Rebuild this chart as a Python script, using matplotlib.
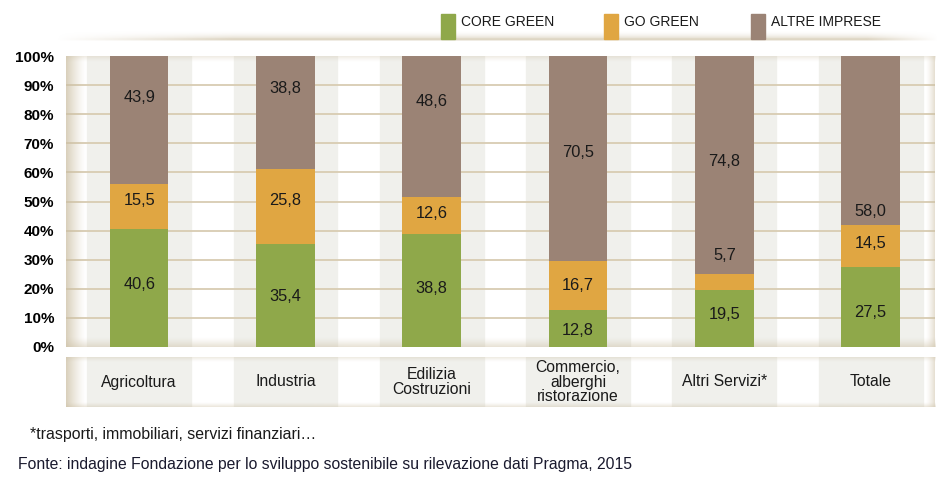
import numpy as np
import matplotlib.pyplot as plt
from matplotlib.patches import Rectangle

categorie = ['Agricoltura', 'Industria', 'Edilizia\nCostruzioni',
             'Commercio,\nalberghi\nristorazione', 'Altri Servizi*', 'Totale']
core_green = [40.6, 35.4, 38.8, 12.8, 19.5, 27.5]
go_green = [15.5, 25.8, 12.6, 16.7, 5.7, 14.5]
altre_imprese = [43.9, 38.8, 48.6, 70.5, 74.8, 58.0]
serie = ['CORE GREEN', 'GO GREEN', 'ALTRE IMPRESE']
yticks = np.arange(0, 101, 10)

# posizioni delle etichette come nel grafico originale (in %)
pos_core = [21.6, 17.2, 20.0, 5.8, 11.0, 12.0]
pos_go = [50.2, 50.2, 46.0, 21.3, 31.3, 35.4]
pos_altre = [85.6, 89.0, 84.5, 66.7, 63.6, 46.7]

c_core = '#8fa84a'
c_go = '#e0a642'
c_altre = '#9b8375'
c_band = '#f0f0ec'
c_grid = '#d8ccb2'
tan = np.array([0.80, 0.75, 0.64])

plt.rcParams['font.family'] = ['Liberation Sans', 'DejaVu Sans']

W, H = 940, 496
fig = plt.figure(figsize=(W / 100, H / 100), dpi=100)


def box(x0, y0, x1, y1):
    return [x0 / W, 1 - y1 / H, (x1 - x0) / W, (y1 - y0) / H]


def shade(ax, extent, direction, alpha=0.8):
    # gradient from tan to transparent
    n = 64
    g = np.linspace(alpha, 0, n) ** 1.3
    img = np.zeros((1, n, 4)) if direction in ('left', 'right') else np.zeros((n, 1, 4))
    img[..., :3] = tan
    if direction == 'left':
        img[0, :, 3] = g
    elif direction == 'right':
        img[0, :, 3] = g[::-1]
    elif direction == 'top':
        img[:, 0, 3] = g
    else:
        img[:, 0, 3] = g[::-1]
    ax.imshow(img, extent=extent, aspect='auto', origin='upper', zorder=1.5,
              interpolation='bilinear')


x = np.arange(len(categorie))
xl = (-0.5, 5.44)

# grafico principale
ax = fig.add_axes(box(66, 56, 935, 347))
ax.set_xlim(*xl)
ax.set_ylim(0, 100)
for xi in x:
    ax.axvspan(xi - 0.355, xi + 0.355, color=c_band, zorder=0)
for yv in yticks[1:-1]:
    ax.axhline(yv, color=c_grid, lw=1.3, zorder=1)
shade(ax, (xl[0], xl[0] + 0.13, 0, 100), 'left', 0.8)
shade(ax, (xl[1] - 0.06, xl[1], 0, 100), 'right', 0.6)
shade(ax, (xl[0], xl[1], 0, 3.2), 'bottom', 0.55)
shade(ax, (xl[0], xl[1], 98, 100), 'top', 0.4)
ax.set_xlim(*xl)
ax.set_ylim(0, 100)

bw = 0.4
base2 = np.array(core_green)
base3 = base2 + np.array(go_green)
ax.bar(x, core_green, bw, color=c_core, zorder=2)
ax.bar(x, go_green, bw, bottom=base2, color=c_go, zorder=2)
ax.bar(x, altre_imprese, bw, bottom=base3, color=c_altre, zorder=2)
for vals, pos in ((core_green, pos_core), (go_green, pos_go), (altre_imprese, pos_altre)):
    for xi, v, p in zip(x, vals, pos):
        ax.text(xi, p, f'{v:.1f}'.replace('.', ','), ha='center', va='center',
                fontsize=11.8, color='#1a1a1a', zorder=3)

ax.set_yticks(yticks)
ax.set_yticklabels([f'{v}%' for v in yticks], fontsize=11, fontweight='bold')
ax.set_xticks([])
ax.tick_params(axis='y', length=0, pad=8.5)
for s in ax.spines.values():
    s.set_visible(False)

# riquadro delle categorie
axl = fig.add_axes(box(66, 357, 935, 407))
axl.set_xlim(*xl)
axl.set_ylim(0, 1)
for xi in x:
    axl.axvspan(xi - 0.355, xi + 0.355, color=c_band, zorder=0)
shade(axl, (xl[0], xl[0] + 0.13, 0, 1), 'left', 0.8)
shade(axl, (xl[1] - 0.06, xl[1], 0, 1), 'right', 0.6)
shade(axl, (xl[0], xl[1], 0, 0.09), 'bottom', 0.5)
shade(axl, (xl[0], xl[1], 0.89, 1), 'top', 0.5)
axl.set_xlim(*xl)
axl.set_ylim(0, 1)
for xi, c in zip(x, categorie):
    axl.text(xi, 0.5, c, ha='center', va='center', fontsize=11.3,
             color='#1a1a1a', linespacing=0.98)
axl.axis('off')

# linea decorativa in alto
axt = fig.add_axes(box(55, 30, 940, 41))
axt.set_xlim(0, 1)
axt.set_ylim(0, 1)
nx, ny = 200, 24
xs = np.linspace(0, 1, nx)
ys = np.linspace(0, 1, ny)
fade_x = np.clip(np.minimum(xs / 0.2, (1 - xs) / 0.08), 0, 1)
fade_y = (1 - ys) ** 2
fade_y[ys < 0.2] = np.linspace(0.2, 1, (ys < 0.2).sum())
img = np.zeros((ny, nx, 4))
img[..., :3] = tan
img[..., 3] = np.outer(fade_y, fade_x) * 0.85
axt.imshow(img, extent=(0, 1, 0, 1), aspect='auto', origin='lower',
           interpolation='bilinear')
axt.axis('off')

# legenda
axg = fig.add_axes([0, 0, 1, 1], facecolor='none')
axg.set_xlim(0, W)
axg.set_ylim(H, 0)
axg.axis('off')
for lx, col, lab in ((441, c_core, serie[0]), (604, c_go, serie[1]), (751, c_altre, serie[2])):
    axg.add_patch(Rectangle((lx, 14), 14, 25, color=col))
    axg.text(lx + 20, 22, lab, ha='left', va='center', fontsize=10, color='#1a1a1a')

axg.text(30, 435, '*trasporti, immobiliari, servizi finanziari…', ha='left',
         va='center', fontsize=11.4, color='#1a1a1a')
axg.text(18, 465, 'Fonte: indagine Fondazione per lo sviluppo sostenibile su rilevazione dati Pragma, 2015',
         ha='left', va='center', fontsize=11.3, color='#1a1a2e')

fig.savefig('out.png', dpi=100)
